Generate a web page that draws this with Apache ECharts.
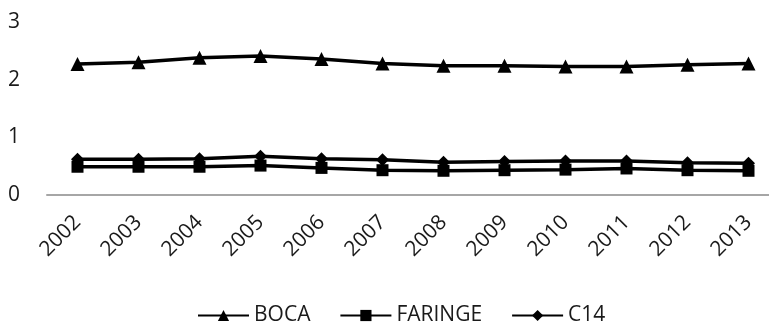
<!DOCTYPE html>
<html>
<head>
<meta charset="utf-8">
<script src="https://cdn.jsdelivr.net/npm/echarts@6/dist/echarts.min.js"></script>
<style>
html, body { margin: 0; padding: 0; background: #fff; }
#mychart { width: 769px; height: 324px; }
</style>
</head>
<body>
<div id="mychart"></div>
<script>
var years = ['2002', '2003', '2004', '2005', '2006', '2007', '2008', '2009', '2010', '2011', '2012', '2013'];
var boca = [2.27, 2.30, 2.38, 2.41, 2.36, 2.28, 2.24, 2.24, 2.23, 2.23, 2.26, 2.28];
var faringe = [0.49, 0.49, 0.49, 0.51, 0.47, 0.43, 0.42, 0.43, 0.44, 0.46, 0.43, 0.42];
var c14 = [0.62, 0.62, 0.63, 0.67, 0.63, 0.61, 0.57, 0.58, 0.59, 0.59, 0.56, 0.55];
var yTicks = [0, 1, 2, 3];

var font = '"Open Sans", sans-serif';
var myChart = echarts.init(document.getElementById('mychart'));

function line(name, data, symbol, size) {
	return {
		name: name,
		type: 'line',
		data: data,
		symbol: symbol,
		symbolSize: size,
		showAllSymbol: true,
		lineStyle: { color: '#000', width: 3.5 },
		itemStyle: { color: '#000' },
		animation: false
	};
}

var option = {
	color: ['#000'],
	textStyle: { fontFamily: font },
	grid: {
		left: 47,
		width: 732,
		top: 22,
		bottom: 129,
		outerBoundsMode: 'none',
		containLabel: false
	},
	legend: {
		top: 300,
		left: 192,
		itemWidth: 51,
		itemHeight: 14,
		itemGap: 29,
		textStyle: { fontSize: 21, color: '#1a1a1a', fontFamily: font },
		data: ['BOCA', 'FARINGE', 'C14']
	},
	xAxis: {
		type: 'category',
		data: years,
		boundaryGap: true,
		axisLine: { lineStyle: { color: '#a6a6a6', width: 2 } },
		axisTick: { show: false },
		axisLabel: {
			rotate: 45,
			margin: 24,
			fontSize: 21,
			color: '#1a1a1a',
			fontFamily: font
		}
	},
	yAxis: {
		type: 'value',
		min: yTicks[0],
		max: yTicks[yTicks.length - 1],
		interval: 1,
		axisLine: { show: false },
		axisTick: { show: false },
		splitLine: { show: false },
		axisLabel: { fontSize: 21, color: '#1a1a1a', margin: 27, fontFamily: font }
	},
	series: [
		line('BOCA', boca, 'triangle', 14),
		line('FARINGE', faringe, 'rect', 12),
		line('C14', c14, 'diamond', 13)
	]
};
myChart.setOption(option);
</script>
</body>
</html>
